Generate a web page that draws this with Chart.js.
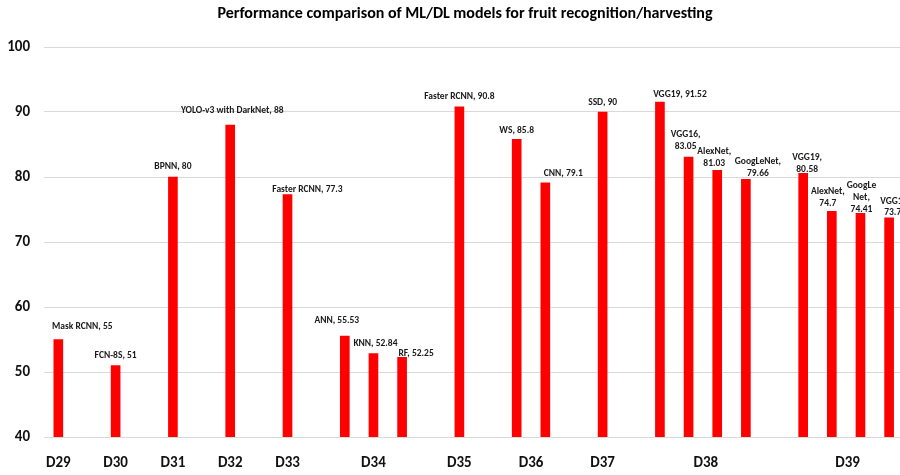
<!DOCTYPE html>
<html lang="en">
<head>
  <meta charset="UTF-8">
  <title>Performance comparison of ML/DL models</title>
  <script src="https://cdn.jsdelivr.net/npm/chart.js"></script>
  <style>
    html, body { margin: 0; padding: 0; background: #fff; overflow: hidden; }
    #wrap { width: 900px; height: 475px; position: relative; }
  </style>
</head>
<body>
  <div id="wrap"><canvas id="perfChart"></canvas></div>

  <script>
    // slot index of each bar along the x axis (gaps between datasets are empty slots)
    const slots  = [0, 2, 4, 6, 8, 10, 11, 12, 14, 16, 17, 19, 21, 22, 23, 24, 26, 27, 28, 29];
    const scores = [55, 51, 80, 88, 77.3, 55.53, 52.84, 52.25, 90.8, 85.8, 79.1, 90,
                    91.52, 83.05, 81.03, 79.66, 80.58, 74.7, 74.41, 73.71];
    const models = ['Mask RCNN', 'FCN-8S', 'BPNN', 'YOLO-v3 with DarkNet', 'Faster RCNN',
                    'ANN', 'KNN', 'RF', 'Faster RCNN', 'WS', 'CNN', 'SSD',
                    'VGG19', 'VGG16', 'AlexNet', 'GoogLeNet', 'VGG19', 'AlexNet', 'GoogLe\nNet', 'VGG16'];
    const groups   = ['D29', 'D30', 'D31', 'D32', 'D33', 'D34', 'D35', 'D36', 'D37', 'D38', 'D39'];
    const groupPos = [0, 2, 4, 6, 8, 11, 14, 16.5, 19, 22.6, 27.55];
    const yTicks   = [40, 50, 60, 70, 80, 90, 100];

    // label nudges [dx, dy, wrapped] - same hand placement as in the original
    const labelNudge = [
      [24, -3, 0], [0, 0, 0], [0, 0, 0], [2, -4, 0], [20, 5, 0],
      [-8, -5, 0], [2, 0, 0], [14, 6, 0], [0, 0, 0], [0, 1, 0], [18, 1, 0], [0, 1, 0],
      [20, 3, 0], [-3, -1, 1], [-3, 3, 1], [12, 4, 1], [4, 6, 1], [-4, 2, 1], [1, 6, 1], [6, 5, 1]
    ];

    const LABEL_FONT = 'bold 9.5px Carlito, Calibri, "Liberation Sans Narrow", "Open Sans", sans-serif';
    const AXIS_FAMILY = 'Carlito, Calibri, Lato, "Open Sans", sans-serif';

    const barLabels = {
      id: 'barLabels',
      afterDatasetsDraw(chart) {
        const ctx = chart.ctx;
        const meta = chart.getDatasetMeta(0);
        ctx.save();
        ctx.font = LABEL_FONT;
        ctx.fillStyle = '#1a1a1a';
        ctx.textAlign = 'center';
        ctx.textBaseline = 'middle';
        meta.data.forEach((bar, i) => {
          const [dx, dy, wrap] = labelNudge[i];
          const txt = models[i] + (wrap ? ',\n' : ', ') + scores[i];
          const lines = txt.split('\n');
          const n = lines.length;
          lines.forEach((ln, k) => {
            ctx.fillText(ln, bar.x + dx, bar.y - 10 + dy - (n - 1 - k) * 11.7);
          });
        });
        ctx.restore();
      }
    };

    const chartTitle = {
      id: 'chartTitle',
      afterDraw(chart) {
        const ctx = chart.ctx;
        ctx.save();
        ctx.font = 'bold 16px ' + AXIS_FAMILY;
        ctx.fillStyle = '#000';
        ctx.textAlign = 'center';
        ctx.textBaseline = 'middle';
        ctx.fillText('Performance comparison of ML/DL models for fruit recognition/harvesting', 465, 14);
        ctx.restore();
      }
    };

    new Chart(document.getElementById('perfChart'), {
      type: 'bar',
      data: {
        datasets: [{
          data: slots.map((s, i) => ({ x: s, y: scores[i] })),
          backgroundColor: '#ff0000',
          borderWidth: 0,
          barThickness: 9
        }]
      },
      options: {
        responsive: true,
        maintainAspectRatio: false,
        animation: false,
        layout: { padding: { top: 47, bottom: 3, left: 0, right: 0 } },
        plugins: { legend: { display: false }, tooltip: { enabled: false }, title: { display: false } },
        scales: {
          x: {
            type: 'linear',
            offset: false,
            min: -0.5,
            max: 29.38,
            grid: { display: false, drawTicks: false },
            border: { display: false },
            afterBuildTicks: s => { s.ticks = groupPos.map(v => ({ value: v })); },
            afterFit: s => { s.height = 35; },
            ticks: {
              autoSkip: false,
              maxRotation: 0,
              padding: 17,
              color: '#111',
              font: { family: AXIS_FAMILY, size: 15, weight: 'bold' },
              callback: (v, i) => groups[i]
            }
          },
          y: {
            min: 40,
            max: 100,
            afterBuildTicks: s => { s.ticks = yTicks.map(v => ({ value: v })); },
            afterFit: s => { s.width = 44; },
            grid: { color: '#d9d9d9', lineWidth: 1, drawTicks: false },
            border: { display: false },
            ticks: {
              padding: 14,
              color: '#111',
              font: { family: AXIS_FAMILY, size: 15, weight: 'bold' }
            }
          }
        }
      },
      plugins: [barLabels, chartTitle]
    });
  </script>
</body>
</html>
